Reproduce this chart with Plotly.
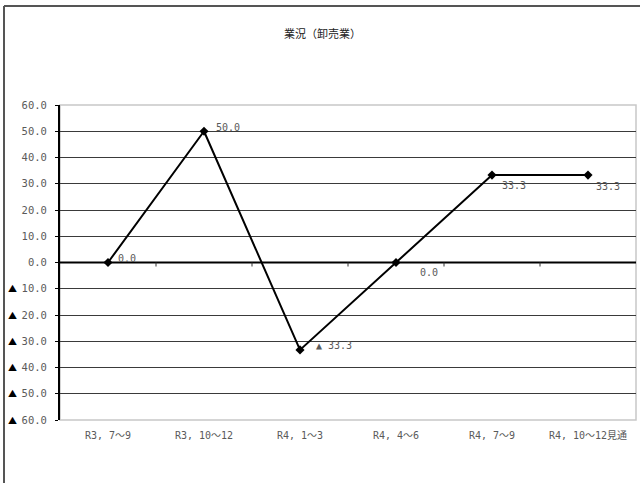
import plotly.graph_objects as go

# 業況（卸売業）: DI by quarter
categories = ["R3, 7～9", "R3, 10～12", "R4, 1～3", "R4, 4～6", "R4, 7～9", "R4, 10～12見通"]
values = [0.0, 50.0, -33.3, 0.0, 33.3, 33.3]
tick_values = [60, 50, 40, 30, 20, 10, 0, -10, -20, -30, -40, -50, -60]

# label offsets (px) for each point's data label
label_shift = [(8, 4), (10, 4), (14, 4), (22, -10), (8, -10), (6, -11)]

MONO = "DejaVu Sans Mono, Noto Sans CJK JP"
CJK = "Noto Sans CJK JP"
GRAY = "#5a5a5a"


def fmt(v):
    return f"▲ {abs(v):.1f}" if v < 0 else f"{v:.1f}"


fig = go.Figure()

fig.add_trace(go.Scatter(
    x=list(range(len(categories))), y=values,
    mode="lines+markers",
    line=dict(color="black", width=2),
    marker=dict(symbol="diamond", size=7, color="black"),
    hoverinfo="skip", showlegend=False,
))

annotations = []
for i, v in enumerate(values):
    dx, dy = label_shift[i]
    annotations.append(dict(
        x=i, y=v, xref="x", yref="y", text=fmt(v), showarrow=False,
        xanchor="left", yanchor="middle", xshift=dx, yshift=dy,
        font=dict(family=MONO, size=10, color=GRAY),
    ))

# ▲ markers for negative tick labels
for t in tick_values:
    if t < 0:
        annotations.append(dict(
            x=-0.083, y=t, xref="paper", yref="y", text="▲", showarrow=False,
            xanchor="center", yanchor="middle",
            font=dict(family=CJK, size=9, color="black"),
        ))

annotations.append(dict(
    x=(322 - 60) / 576, y=(420 - 33) / 315, xref="paper", yref="paper",
    text="業況（卸売業）", showarrow=False, xanchor="center", yanchor="middle",
    font=dict(family=CJK, size=11, color="#222222"),
))

shapes = [
    # plot area border
    dict(type="rect", xref="paper", yref="paper", x0=0, x1=1, y0=0, y1=1,
         line=dict(color="#c8c8c8", width=1.5), layer="below"),
    # zero line (category axis)
    dict(type="line", xref="paper", yref="y", x0=0, x1=1, y0=0, y1=0,
         line=dict(color="black", width=2)),
    # outer frame (top and left)
    dict(type="line", xref="paper", yref="paper", x0=(4 - 60) / 576, x1=1.1,
         y0=(420 - 6) / 315, y1=(420 - 6) / 315, line=dict(color="#555555", width=2)),
    dict(type="line", xref="paper", yref="paper", x0=(4 - 60) / 576, x1=(4 - 60) / 576,
         y0=(420 - 6) / 315, y1=-0.3, line=dict(color="#555555", width=2)),
]

# small category-boundary ticks hanging below the zero line
for i in range(len(categories) - 1):
    shapes.append(dict(
        type="line", xref="x", yref="y", x0=i + 0.5, x1=i + 0.5,
        ysizemode="pixel", yanchor=0, y0=0, y1=-4,
        line=dict(color="#333333", width=1),
    ))

fig.update_layout(
    width=640, height=483,
    margin=dict(l=60, r=4, t=105, b=63),
    paper_bgcolor="white", plot_bgcolor="white",
    showlegend=False,
    annotations=annotations,
    shapes=shapes,
    xaxis=dict(
        range=[-0.5, len(categories) - 0.5],
        tickvals=list(range(len(categories))), ticktext=categories,
        showgrid=False, zeroline=False, showline=False, ticks="",
        ticklabelstandoff=8,
        tickfont=dict(family=MONO, size=10, color=GRAY),
        fixedrange=True,
    ),
    yaxis=dict(
        range=[-60, 60],
        tickvals=tick_values,
        ticktext=[f"{abs(t):.1f}" for t in tick_values],
        showgrid=True, gridcolor="#3a3a3a", gridwidth=1.4,
        zeroline=False,
        showline=True, linecolor="black", linewidth=2,
        ticks="outside", ticklen=3, tickcolor="black", tickwidth=1,
        ticklabelstandoff=6,
        tickfont=dict(family=MONO, size=10.5, color=GRAY),
        fixedrange=True,
    ),
)

fig.write_html("out.html")
